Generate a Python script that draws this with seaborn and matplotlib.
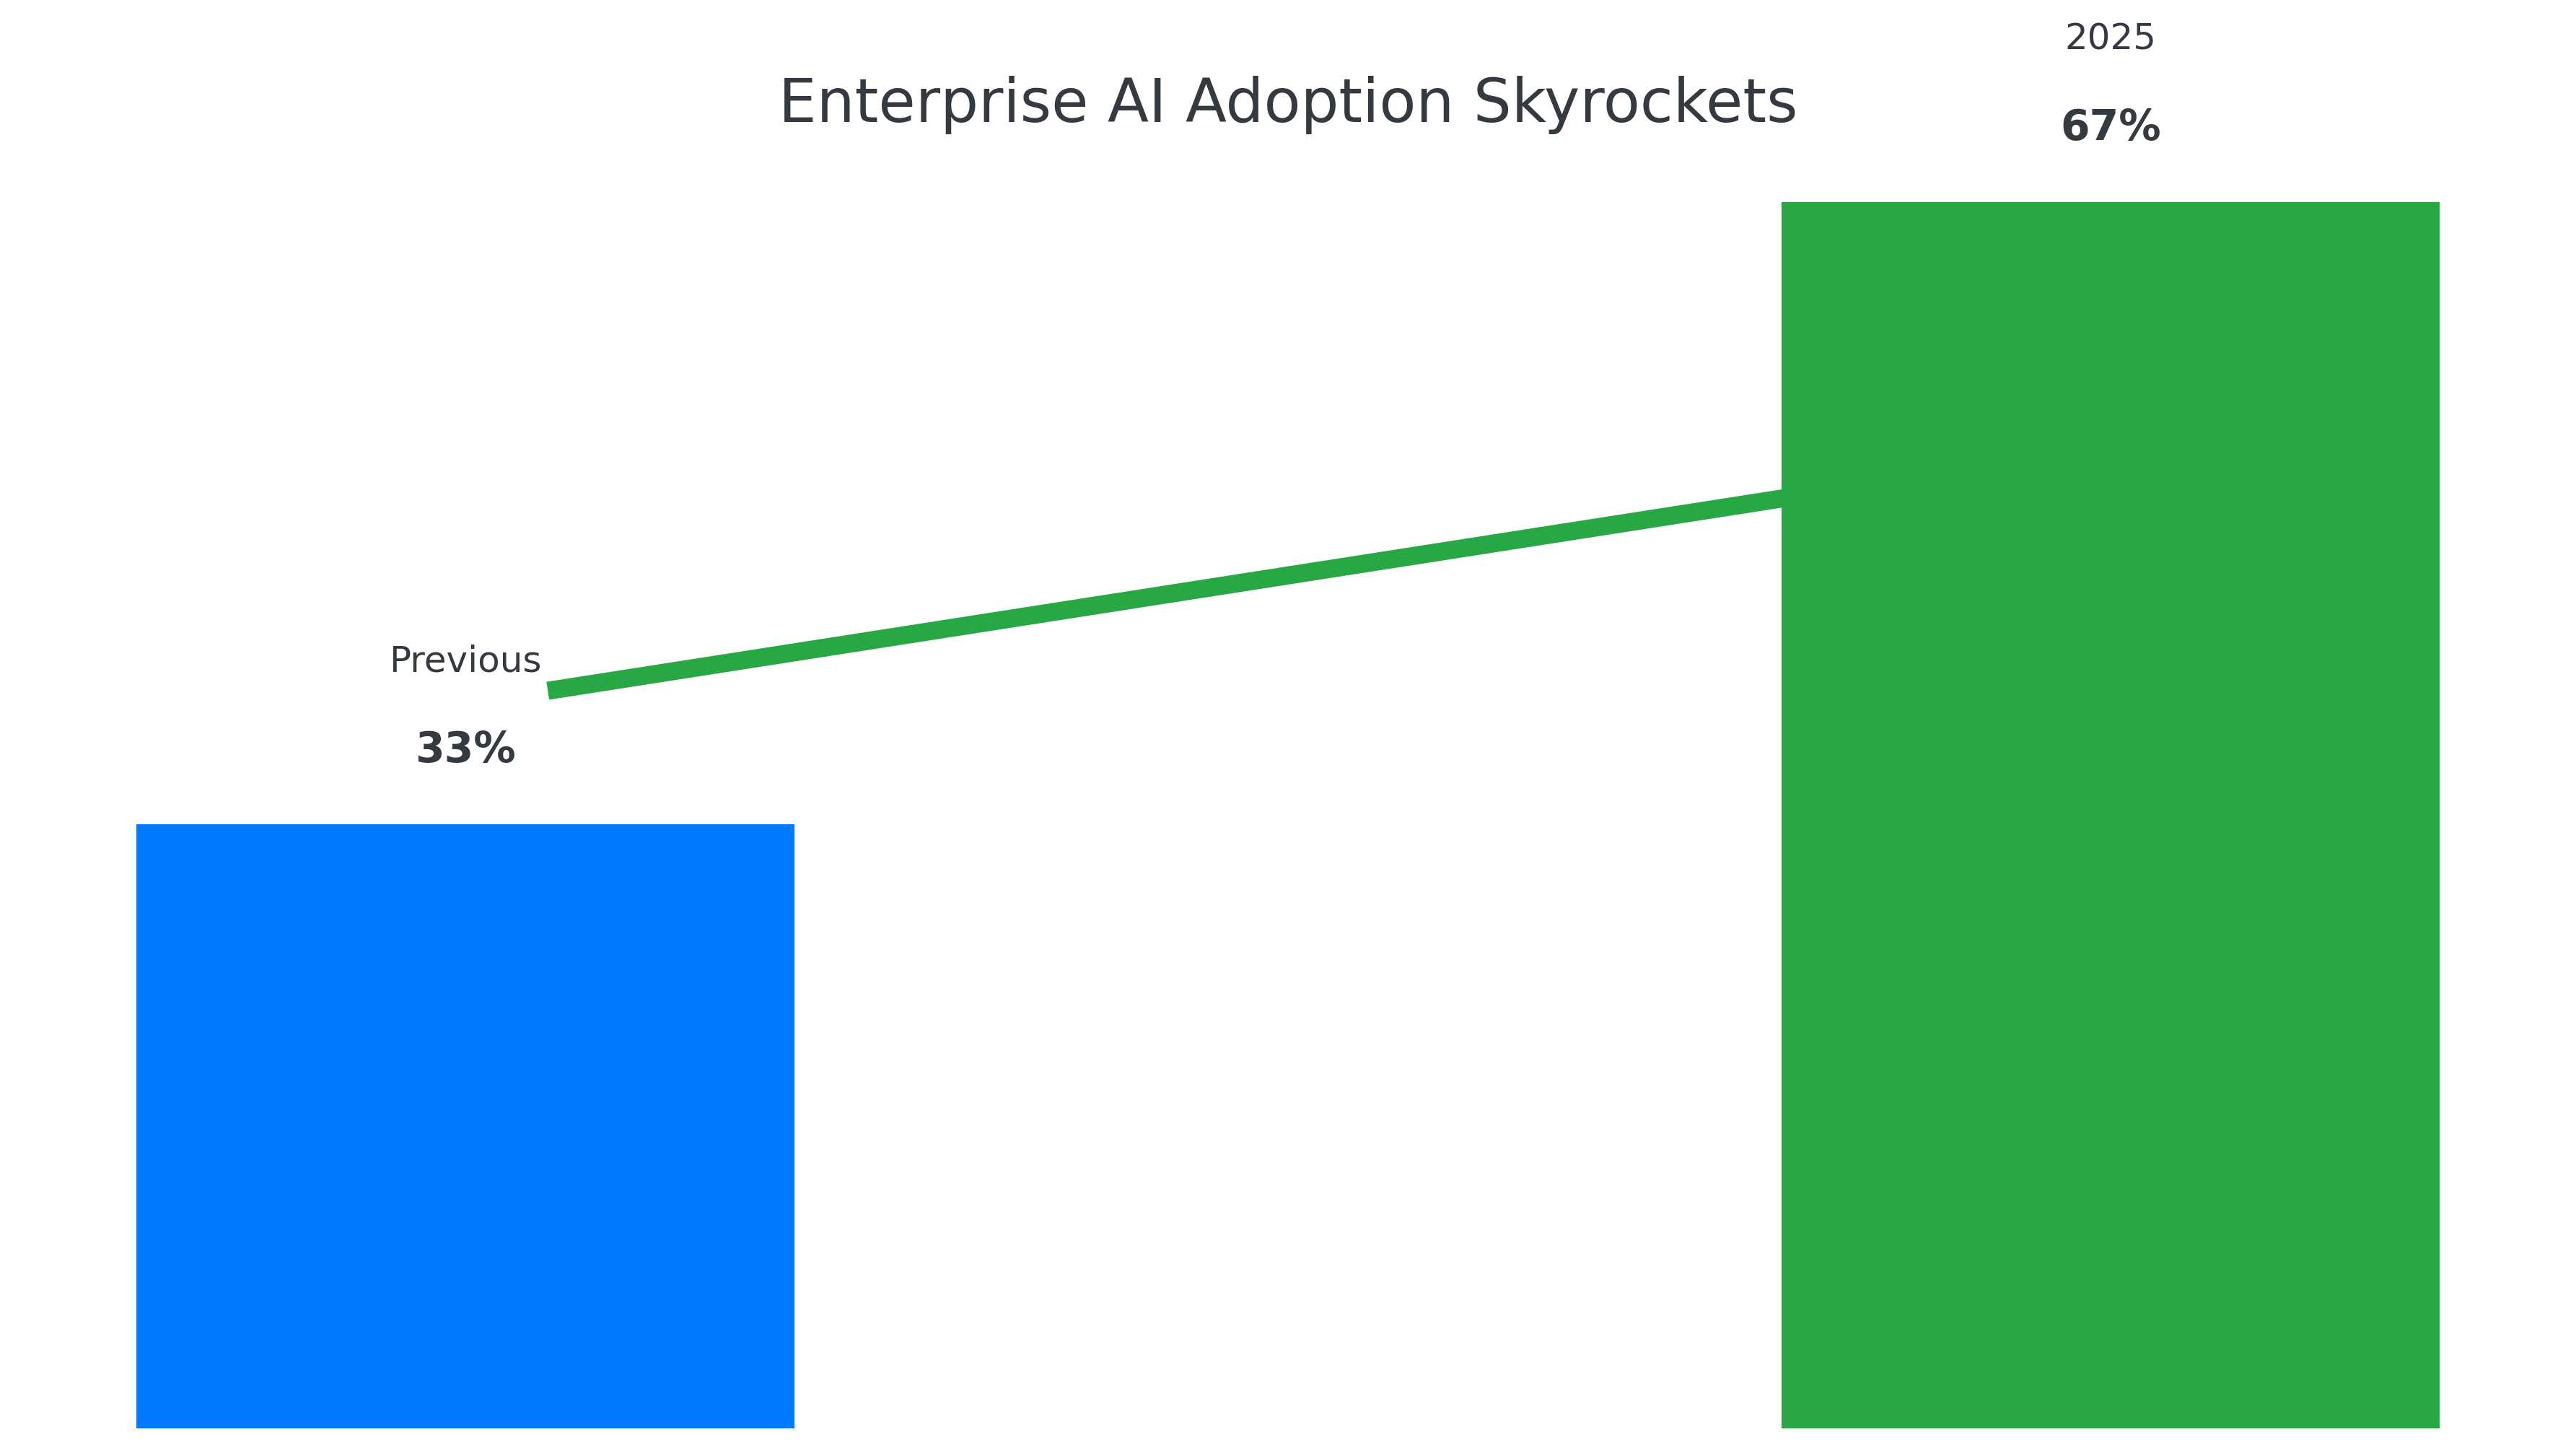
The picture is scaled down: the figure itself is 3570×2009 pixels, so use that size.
import numpy as np
import pandas as pd
import matplotlib
matplotlib.use("Agg")
import matplotlib.pyplot as plt
import seaborn as sns

# Chart data
periods = ["Previous", "2025"]
adoption = [33, 67]
bar_colors = ["#007bff", "#28a745"]
title = "Enterprise AI Adoption Skyrockets"
text_color = "#343a40"

df = pd.DataFrame({"period": periods, "adoption": adoption})

sns.set_theme(style="white")
plt.rcParams["font.family"] = ["DejaVu Sans"]

fig = plt.figure(figsize=(11.9, 2009 / 300), dpi=300)
ax = fig.add_axes([0, 0, 1, 1])

sns.barplot(
    data=df, x="period", y="adoption", hue="period", order=periods,
    palette=bar_colors, width=0.4, saturation=1, legend=False, ax=ax,
    linewidth=0,
)

# trend line running behind the bars
ax.annotate(
    "", xy=(1, adoption[1] * 0.8), xytext=(0, adoption[0] * 1.2),
    arrowprops=dict(arrowstyle="-", color=bar_colors[1], lw=6,
                    shrinkA=27.7, shrinkB=0, capstyle="butt"),
    zorder=0.5,
)

for i, (label, val) in enumerate(zip(periods, adoption)):
    ax.text(i, val + 8.35, label, ha="center", va="baseline",
            fontsize=12, color=text_color)
    ax.text(i, val + 3.4, f"{val}%", ha="center", va="baseline",
            fontsize=14, fontweight="bold", color=text_color)

ax.set_title(title, fontsize=20, color=text_color, y=0.916, pad=0)

ax.set_xlim(-0.283, 1.283)
ax.set_ylim(-1.18, 78.04)
ax.set_xticks([])
ax.set_yticks([])
ax.set_xlabel("")
ax.set_ylabel("")
for s in ax.spines.values():
    s.set_visible(False)

fig.savefig("out.png", dpi=300, facecolor="white")
